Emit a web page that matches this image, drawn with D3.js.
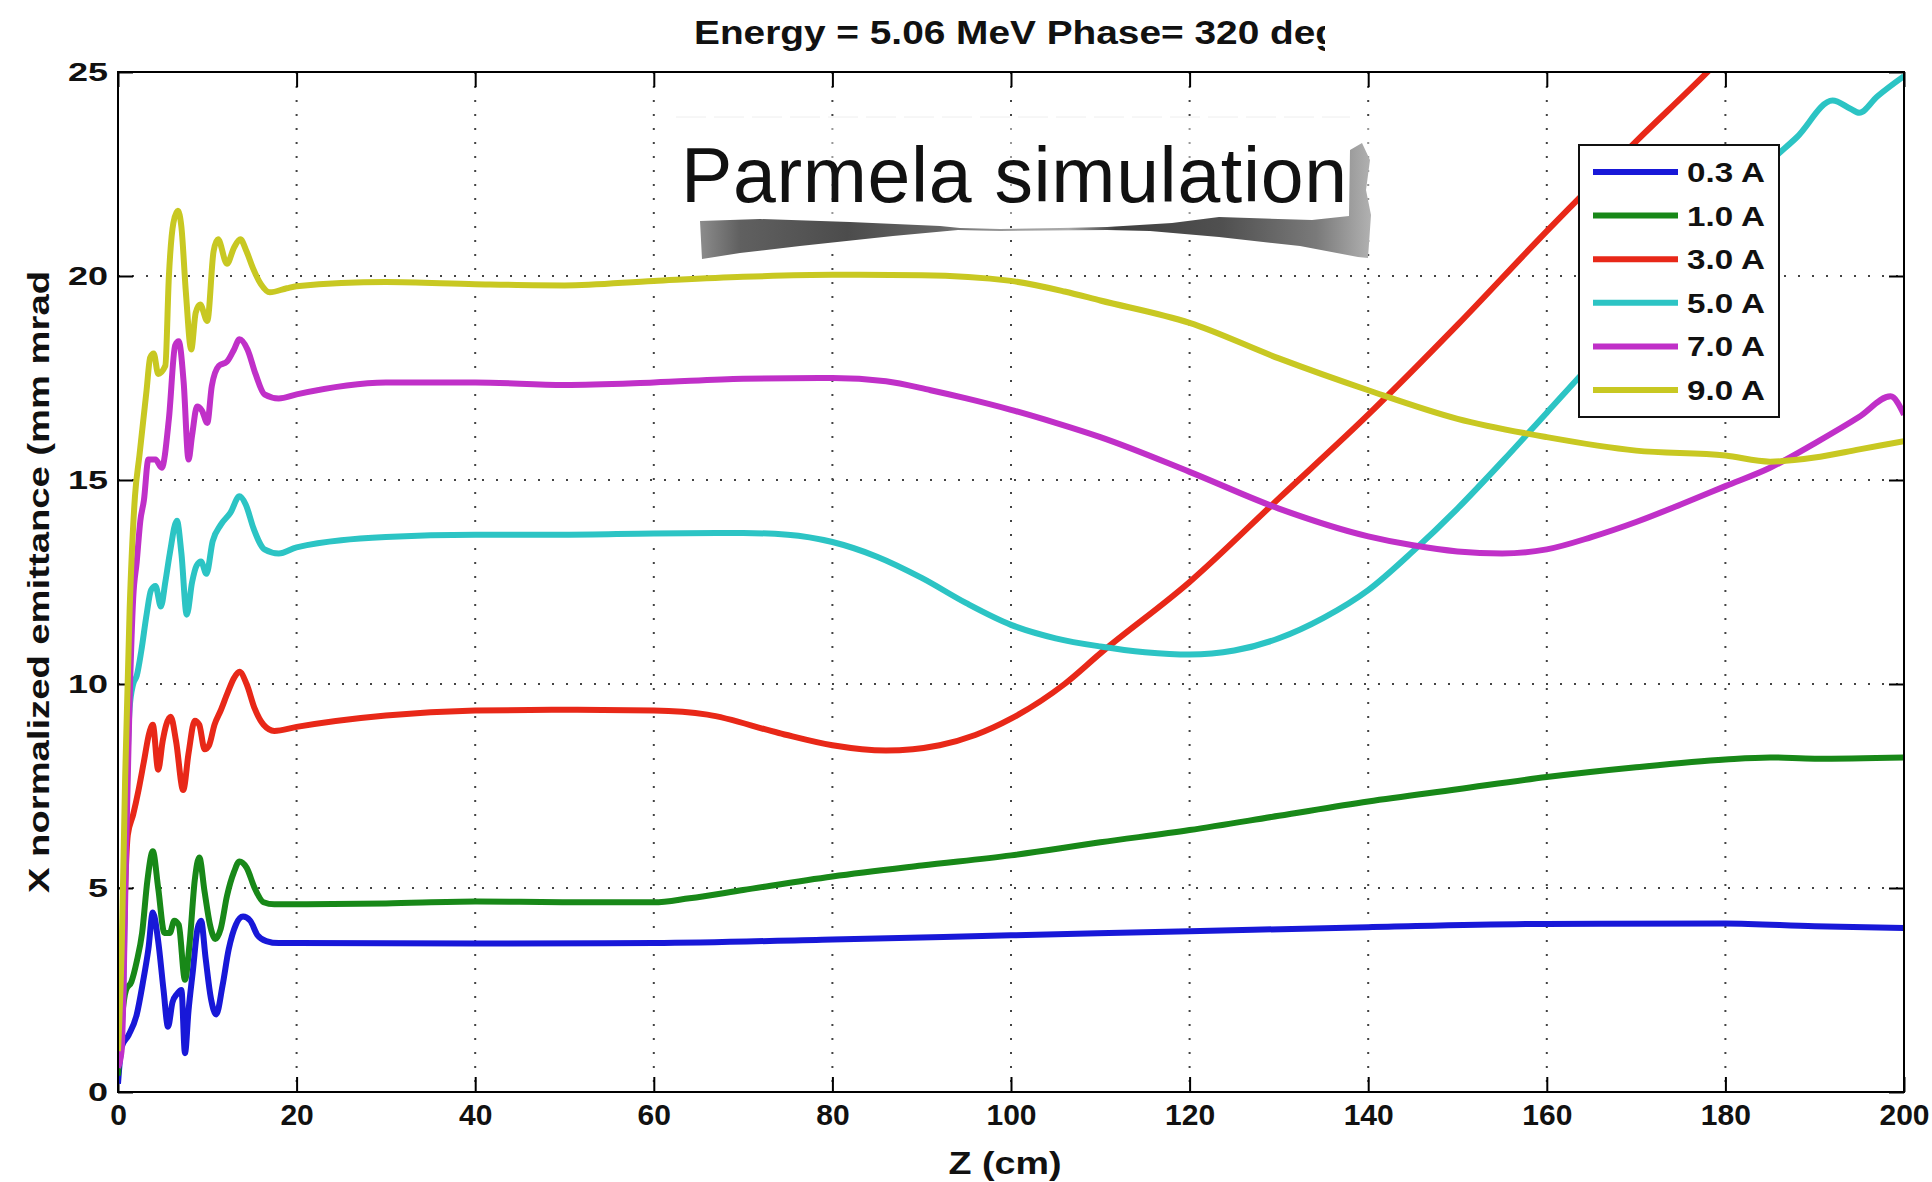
<!DOCTYPE html>
<html>
<head>
<meta charset="utf-8">
<script src="https://cdn.jsdelivr.net/npm/d3@7"></script>
<style>
body { margin: 0; background: #fff; }
text { font-family: "Liberation Sans", Arial, sans-serif; }
</style>
</head>
<body>
<script>
// emittance data, [z (cm), emittance (mm mrad)]
var s03 = [[0,0.2],[0.4,1.1],[1.2,1.4],[2.1,1.9],[2.8,2.7],[3.4,3.5],[3.9,4.4],[4.5,3.7],[5.1,2.5],[5.6,1.6],[6.1,2.2],[6.6,2.4],[7.1,2.5],[7.5,0.95],[7.9,2.0],[8.4,3.0],[8.9,4.0],[9.3,4.2],[9.8,3.3],[10.4,2.3],[11.0,1.9],[11.7,2.6],[12.4,3.5],[13.2,4.1],[14.0,4.3],[14.8,4.2],[15.6,3.85],[16.6,3.7],[18,3.65],[20,3.65],[40,3.64],[60,3.65],[80,3.74],[100,3.84],[120,3.94],[140,4.04],[160,4.12],[180,4.13],[190,4.06],[200,4.02]];
var s10 = [[0,0.4],[0.4,1.7],[0.9,2.5],[1.5,2.7],[2.1,3.2],[2.7,3.9],[3.3,5.2],[3.9,5.9],[4.5,5.0],[5.2,3.9],[5.8,3.9],[6.3,4.2],[6.8,4.1],[7.5,2.75],[8.0,3.6],[8.6,5.2],[9.1,5.75],[9.7,4.9],[10.3,4.1],[10.9,3.75],[11.5,4.0],[12.2,4.8],[13.0,5.4],[13.6,5.65],[14.4,5.5],[15.3,5.0],[16.3,4.65],[17.5,4.6],[20,4.6],[30,4.62],[40,4.67],[50,4.65],[60,4.65],[64,4.75],[70,4.95],[80,5.28],[90,5.55],[100,5.8],[110,6.12],[120,6.42],[130,6.77],[140,7.12],[150,7.42],[160,7.72],[170,7.96],[180,8.15],[185,8.2],[190,8.17],[200,8.2]];
var s30 = [[0,1.0],[0.5,2.5],[0.8,5.0],[1.1,6.3],[1.7,6.8],[2.3,7.4],[2.9,8.1],[3.5,8.8],[3.9,9.0],[4.5,7.9],[5.0,8.6],[5.4,9.0],[5.9,9.2],[6.5,8.6],[7.3,7.4],[7.9,8.3],[8.6,9.1],[9.1,9.0],[9.7,8.4],[10.2,8.5],[10.8,9.0],[11.5,9.35],[12.3,9.8],[13.0,10.15],[13.6,10.3],[14.4,10.0],[15.3,9.4],[16.3,9.0],[17.5,8.85],[20,8.95],[30,9.23],[40,9.35],[50,9.37],[60,9.35],[66,9.25],[74,8.8],[80,8.5],[86,8.37],[92,8.5],[96,8.75],[100,9.15],[106,10.0],[110,10.75],[120,12.5],[130,14.55],[140,16.6],[150,18.8],[160,21.1],[170,23.3],[178,25.0],[182,25.9]];
var s50 = [[0,0.8],[0.4,1.5],[0.6,2.5],[0.9,6.5],[1.3,9.4],[1.7,10.0],[2.1,10.2],[2.6,10.8],[3.2,11.7],[3.7,12.3],[4.2,12.4],[4.8,11.9],[5.3,12.5],[5.8,13.2],[6.6,14.0],[7.1,13.2],[7.7,11.7],[8.3,12.5],[8.8,12.9],[9.3,13.0],[9.9,12.7],[10.6,13.5],[11.5,13.9],[12.6,14.2],[13.6,14.6],[14.3,14.4],[15.2,13.8],[16.4,13.3],[18,13.2],[20,13.35],[30,13.6],[40,13.66],[50,13.66],[60,13.69],[70,13.7],[75,13.66],[80,13.48],[85,13.12],[90,12.6],[95,11.98],[100,11.45],[105,11.12],[110,10.92],[115,10.78],[120,10.72],[125,10.82],[130,11.12],[135,11.62],[140,12.3],[145,13.25],[150,14.3],[155,15.45],[160,16.65],[165,17.85],[170,19.0],[175,20.25],[180,21.55],[185,22.8],[188,23.4],[192,24.3],[194,24.1],[195,24.0],[197,24.4],[200,24.9]];
var s70 = [[0,0.6],[0.4,1.0],[0.6,2.3],[0.9,5.9],[1.3,9.6],[1.7,12.1],[2.1,13.0],[2.5,14.0],[2.9,14.5],[3.4,15.5],[4.2,15.5],[4.9,15.3],[5.7,16.5],[6.4,18.3],[6.8,18.4],[7.35,17.4],[7.9,15.5],[8.3,16.1],[8.85,16.8],[9.4,16.7],[10.0,16.4],[10.5,17.3],[11.3,17.8],[12.2,17.9],[13.0,18.2],[13.6,18.45],[14.5,18.2],[15.4,17.6],[16.4,17.1],[18,17.0],[20,17.1],[30,17.39],[40,17.39],[50,17.33],[60,17.39],[70,17.48],[80,17.5],[86,17.42],[91,17.2],[95,17.0],[100,16.72],[105,16.4],[110,16.05],[120,15.2],[130,14.3],[140,13.62],[145,13.4],[150,13.25],[155,13.2],[160,13.3],[165,13.6],[170,13.97],[175,14.4],[180,14.85],[185,15.3],[190,15.9],[195,16.55],[198.5,17.05],[200,16.6]];
var s90 = [[0,1.0],[0.4,3.4],[0.8,7.7],[1.3,11.8],[1.9,14.6],[2.4,15.6],[2.8,16.4],[3.2,17.2],[3.6,18.0],[4.0,18.1],[4.5,17.6],[5.3,17.8],[5.7,20.0],[6.2,21.3],[6.7,21.6],[7.1,21.2],[7.6,19.6],[8.2,18.2],[8.7,19.1],[9.2,19.3],[10.0,18.9],[10.7,20.6],[11.2,20.9],[12.2,20.3],[13.0,20.7],[13.7,20.9],[14.4,20.6],[15.1,20.2],[16.0,19.8],[17.0,19.6],[18.9,19.7],[20,19.75],[30,19.85],[40,19.8],[50,19.77],[60,19.88],[70,19.98],[80,20.03],[90,20.02],[100,19.88],[106,19.62],[110,19.4],[120,18.85],[130,17.98],[140,17.2],[150,16.5],[160,16.05],[170,15.72],[180,15.6],[185,15.45],[190,15.55],[195,15.75],[200,15.95]];

var labels = ["0.3 A", "1.0 A", "3.0 A", "5.0 A", "7.0 A", "9.0 A"];
var colors = ["#1818d8", "#188818", "#e82818", "#2cc4c4", "#c030c8", "#c8c822"];
var xTicks = [0, 20, 40, 60, 80, 100, 120, 140, 160, 180, 200];
var yTicks = [0, 5, 10, 15, 20, 25];

var width = 1932,
  height = 1182;
var margin = {top: 72, right: 28, bottom: 90, left: 118};
var w = width - margin.left - margin.right,
  h = height - margin.top - margin.bottom;

var svg = d3.select('body').append('svg')
  .attr('width', width)
  .attr('height', height);

var defs = svg.append('defs');
defs.append('clipPath').attr('id', 'plotclip')
  .append('rect').attr('width', w).attr('height', h);
defs.append('clipPath').attr('id', 'titleclip')
  .append('rect').attr('x', 0).attr('y', 0).attr('width', 1325).attr('height', 70);

var x = d3.scaleLinear().domain([0, 200]).range([0, w]);
var y = d3.scaleLinear().domain([0, 25]).range([h, 0]);

var g = svg.append('g').attr('transform', 'translate(' + margin.left + ',' + margin.top + ')');

// dotted grid
g.append('g').selectAll('line')
  .data(xTicks.slice(1, -1))
  .enter().append('line')
    .attr('x1', function(d) { return x(d); }).attr('x2', function(d) { return x(d); })
    .attr('y1', 0).attr('y2', h)
    .attr('stroke', '#444').attr('stroke-width', 2)
    .attr('stroke-dasharray', '2,12');
g.append('g').selectAll('line')
  .data(yTicks.slice(1, -1))
  .enter().append('line')
    .attr('x1', 0).attr('x2', w)
    .attr('y1', function(d) { return y(d); }).attr('y2', function(d) { return y(d); })
    .attr('stroke', '#444').attr('stroke-width', 2)
    .attr('stroke-dasharray', '2,12');

// axes, ticks inward
var xAxis = g.append('g').attr('transform', 'translate(0,' + h + ')')
  .call(d3.axisBottom(x).tickValues(xTicks).tickSize(-15).tickPadding(12));
g.append('g')
  .call(d3.axisTop(x).tickValues(xTicks).tickSize(-15).tickFormat(''));
var yAxis = g.append('g')
  .call(d3.axisLeft(y).tickValues(yTicks).tickSize(-15).tickPadding(10));
g.append('g').attr('transform', 'translate(' + w + ',0)')
  .call(d3.axisRight(y).tickValues(yTicks).tickSize(-15).tickFormat(''));

g.selectAll('.domain').remove();
g.selectAll('.tick line').attr('stroke', '#000').attr('stroke-width', 2);

xAxis.selectAll('text')
  .attr('font-size', 30).attr('font-weight', 'bold').attr('fill', '#111')
  .attr('font-family', '"Liberation Sans", Arial, sans-serif');
yAxis.selectAll('text')
  .attr('font-size', 25).attr('font-weight', 'bold').attr('fill', '#111')
  .attr('font-family', '"Liberation Sans", Arial, sans-serif')
  .attr('textLength', function(d) { return String(d).length * 20; })
  .attr('lengthAdjust', 'spacingAndGlyphs');

// curves
var line = d3.line()
  .x(function(d) { return x(d[0]); })
  .y(function(d) { return y(d[1]); })
  .curve(d3.curveMonotoneX);

var series = [s03, s10, s30, s50, s70, s90];
g.append('g').attr('clip-path', 'url(#plotclip)')
  .selectAll('path')
  .data(series)
  .enter().append('path')
    .attr('d', line)
    .attr('fill', 'none')
    .attr('stroke', function(d, i) { return colors[i]; })
    .attr('stroke-width', 6)
    .attr('stroke-linejoin', 'round');

// frame
g.append('rect')
  .attr('width', w).attr('height', h)
  .attr('fill', 'none').attr('stroke', '#000').attr('stroke-width', 2);

// legend
var lg = svg.append('g').attr('transform', 'translate(1579,145)');
lg.append('rect')
  .attr('width', 200).attr('height', 272)
  .attr('fill', '#fff').attr('stroke', '#111').attr('stroke-width', 2);
var item = lg.selectAll('g.item')
  .data(labels)
  .enter().append('g')
    .attr('transform', function(d, i) { return 'translate(0,' + (27 + i * 43.6) + ')'; });
item.append('line')
  .attr('x1', 14).attr('x2', 99)
  .attr('stroke', function(d, i) { return colors[i]; })
  .attr('stroke-width', 6);
item.append('text')
  .attr('x', 108).attr('dy', '0.36em')
  .attr('font-size', 28).attr('font-weight', 'bold').attr('fill', '#111')
  .attr('textLength', 78).attr('lengthAdjust', 'spacingAndGlyphs')
  .text(function(d) { return d; });

// titles
svg.append('text')
  .attr('clip-path', 'url(#titleclip)')
  .attr('x', 694).attr('y', 44)
  .attr('font-size', 34).attr('font-weight', 'bold').attr('fill', '#111')
  .attr('textLength', 645).attr('lengthAdjust', 'spacingAndGlyphs')
  .text('Energy = 5.06 MeV Phase= 320 deg');

svg.append('text')
  .attr('x', 1005).attr('y', 1174)
  .attr('text-anchor', 'middle')
  .attr('font-size', 32).attr('font-weight', 'bold').attr('fill', '#111')
  .attr('textLength', 113).attr('lengthAdjust', 'spacingAndGlyphs')
  .text('Z (cm)');

svg.append('text')
  .attr('transform', 'translate(49,582) rotate(-90)')
  .attr('text-anchor', 'middle')
  .attr('font-size', 30).attr('font-weight', 'bold').attr('fill', '#111')
  .attr('textLength', 622).attr('lengthAdjust', 'spacingAndGlyphs')
  .text('X normalized emittance (mm mrad');

// pasted "Parmela simulation" label with its paper shadow
var grad = defs.append('linearGradient').attr('id', 'shade')
  .attr('gradientUnits', 'userSpaceOnUse')
  .attr('x1', 700).attr('x2', 1370).attr('y1', 0).attr('y2', 0);
[[0, '#8c8c8c'], [0.06, '#606060'], [0.22, '#4c4c4c'], [0.36, '#666'], [0.45, '#999'],
 [0.55, '#aaa'], [0.62, '#404040'], [0.78, '#505050'], [0.92, '#7a7a7a'], [1, '#b0b0b0']]
  .forEach(function(s) { grad.append('stop').attr('offset', s[0]).attr('stop-color', s[1]); });

svg.append('rect')
  .attr('x', 676).attr('y', 117).attr('width', 694).attr('height', 105)
  .attr('fill', '#fff').attr('opacity', 0.45);
svg.append('line')
  .attr('x1', 676).attr('x2', 1350).attr('y1', 117).attr('y2', 117)
  .attr('stroke', '#eee').attr('stroke-width', 1).attr('stroke-dasharray', '30,8');

svg.append('path')
  .attr('d', 'M700,221 L760,219 L850,222 L940,226 L960,228 L1000,229 L1060,228 L1107,227 L1172,223 L1219,217 L1312,220 L1349,216 L1350,150 L1362,143 L1370,160 L1366,190 L1371,215 L1368,258 L1358,257 L1300,246 L1219,237 L1150,231 L1107,230 L1000,231 L958,230 L893,236 L800,246 L740,253 L702,259 Z')
  .attr('fill', 'url(#shade)');

svg.append('text')
  .attr('x', 681).attr('y', 202)
  .attr('font-family', 'Lato, "Open Sans", sans-serif')
  .attr('font-size', 77).attr('fill', '#111')
  .attr('textLength', 666).attr('lengthAdjust', 'spacing')
  .text('Parmela simulation');
</script>
</body>
</html>
